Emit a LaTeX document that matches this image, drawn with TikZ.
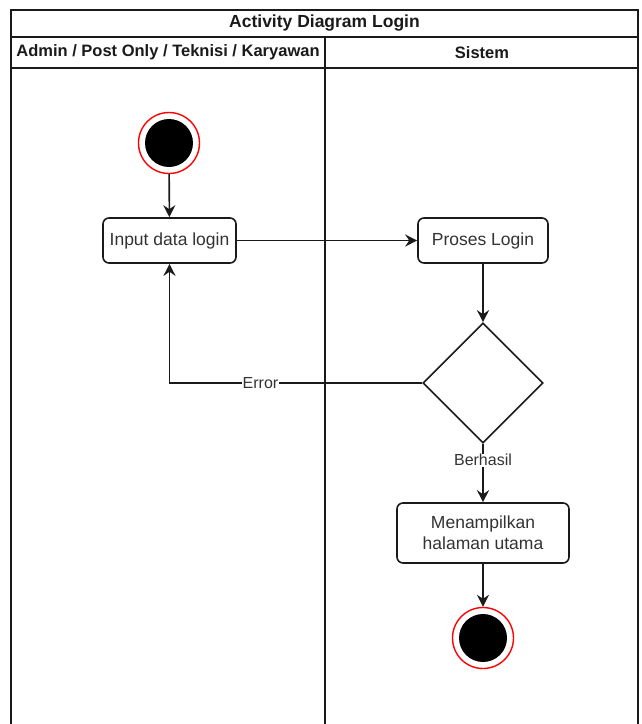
\documentclass[tikz,border=0pt]{standalone}
\usepackage{fontspec}
\setmainfont{Liberation Sans}
\usetikzlibrary{shapes.geometric,arrows.meta}
\definecolor{ink}{HTML}{1A1A1A}
\definecolor{txt}{HTML}{333333}
\definecolor{ringred}{HTML}{FF0000}
\begin{document}
\begin{tikzpicture}[x=1pt,y=-1pt,
  lane/.style={draw=ink,line width=1.8pt},
  act/.style={draw=ink,line width=1.6pt,rounded corners=6pt,fill=white,
    font=\fontsize{17.5}{21}\selectfont,text=txt,align=center,inner sep=0pt},
  decision/.style={draw=ink,line width=1.6pt,diamond,aspect=1,fill=white,
    minimum width=120pt,minimum height=120pt,inner sep=0pt},
  startpt/.style={circle,draw=ringred,line width=1.4pt,fill=white,
    minimum size=61pt,inner sep=0pt,
    path picture={\fill[black] (path picture bounding box.center) circle (24pt);}},
  flow/.style={draw=ink,line width=1.6pt,-{Stealth[length=12pt,width=12pt,inset=4pt]}},
  lbl/.style={fill=white,font=\fontsize{16}{18}\selectfont,text=txt,inner sep=0.5pt},
  head/.style={font=\bfseries\fontsize{16.5}{19}\selectfont,text=ink}]
\useasboundingbox (0,0) rectangle (641,724);
% swimlane frame
\draw[lane] (11,740) -- (11,10) -- (638,10) -- (638,740);
\draw[lane] (11,37) -- (638,37);
\draw[lane] (11,68) -- (638,68);
\draw[lane] (325,37) -- (325,740);
\node[head,font=\bfseries\fontsize{17.5}{20}\selectfont] (title) at (324.5,23) {Activity Diagram Login};
\node[head] (laneA) at (168,52.5) {Admin / Post Only / Teknisi / Karyawan};
\node[head] (laneB) at (482,52.5) {Sistem};
% activities
\node[startpt] (start) at (169,143) {};
\node[act,minimum width=133pt,minimum height=45pt] (input) at (169.5,240.5) {Input data login};
\node[act,minimum width=130pt,minimum height=45pt] (proses) at (483,240.5) {Proses Login};
\node[decision] (cek) at (483,383) {};
\node[act,minimum width=172pt,minimum height=60pt] (tampil) at (483,533) {Menampilkan\\halaman utama};
\node[startpt] (final) at (483,638) {};
% connectors
\draw[flow] (start) -- (input);
\draw[flow] (input) -- (proses);
\draw[flow] (proses) -- (cek);
\draw[flow] (cek.west) -| node[lbl,pos=0.32] (err) {Error} (input.south);
\draw[flow] (cek.south) -- node[lbl,pos=0.28] (ok) {Berhasil} (tampil.north);
\draw[flow] (tampil) -- (final);
\end{tikzpicture}
\end{document}
